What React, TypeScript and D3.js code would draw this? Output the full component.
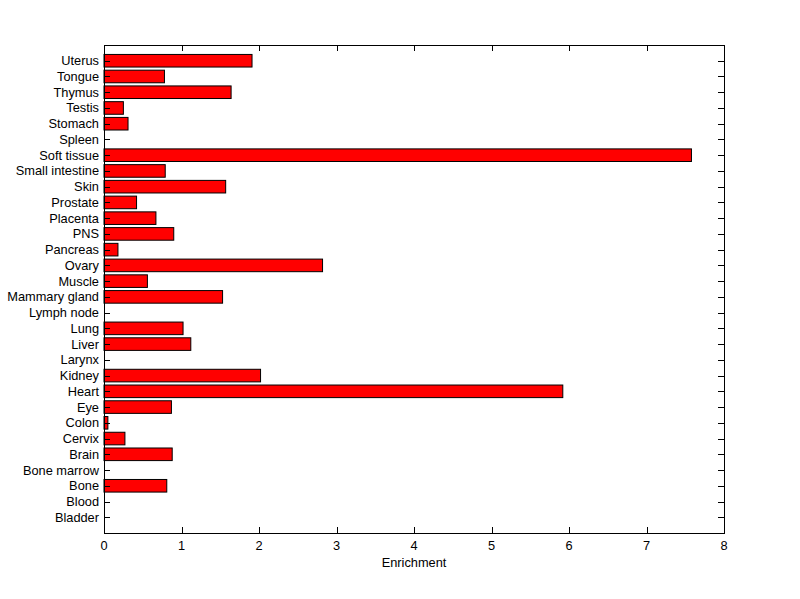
import React from "react";
import * as d3 from "d3";

const categories = [
  "Uterus", "Tongue", "Thymus", "Testis", "Stomach", "Spleen", "Soft tissue",
  "Small intestine", "Skin", "Prostate", "Placenta", "PNS", "Pancreas", "Ovary",
  "Muscle", "Mammary gland", "Lymph node", "Lung", "Liver", "Larynx", "Kidney",
  "Heart", "Eye", "Colon", "Cervix", "Brain", "Bone marrow", "Bone", "Blood", "Bladder",
];
const values = [
  1.91, 0.78, 1.64, 0.25, 0.31, 0, 7.58,
  0.79, 1.57, 0.42, 0.67, 0.90, 0.18, 2.82,
  0.56, 1.53, 0, 1.02, 1.12, 0, 2.02,
  5.92, 0.87, 0.05, 0.27, 0.88, 0, 0.81, 0, 0,
];
const xTicks = [0, 1, 2, 3, 4, 5, 6, 7, 8];
const xLabel = "Enrichment";

export default function App() {
  const W = 800, H = 599;
  const left = 104, right = 724, top = 45, bottom = 533;
  const n = categories.length;
  const x = d3.scaleLinear().domain([0, 8]).range([left, right]);
  const y = d3.scaleLinear().domain([0, n + 1]).range([bottom, top]);
  const pos = (i: number) => n - i; // Uterus top
  const barH = Math.abs(y(0.8) - y(0));
  const tick = 6;
  const font = "'Liberation Sans', Arial, sans-serif";
  return (
    <svg width={W} height={H} style={{ position: "absolute", left: 0, top: 0, background: "#fff" }}
      fontFamily={font} fontSize={12.8}>
      <rect x={0} y={0} width={W} height={H} fill="#fff" />
      {categories.map((c, i) => {
        const v = values[i];
        const cy = y(pos(i));
        return v > 0 ? (
          <rect key={c} x={x(0)} y={cy - barH / 2} width={x(v) - x(0)} height={barH}
            fill="#ff0000" stroke="#000" strokeWidth={1} />
        ) : null;
      })}
      {/* y ticks */}
      {categories.map((c, i) => {
        const cy = Math.round(y(pos(i))) + 0.5;
        return (
          <g key={"t" + c}>
            <line x1={left} x2={left + tick} y1={cy} y2={cy} stroke="#000" />
            <line x1={right} x2={right - tick} y1={cy} y2={cy} stroke="#000" />
            <text x={left - 5} y={y(pos(i))} dy="0.35em" textAnchor="end" fill="#000">{c}</text>
          </g>
        );
      })}
      {/* x ticks */}
      {xTicks.map((t) => {
        const cx = Math.round(x(t)) + 0.5;
        return (
          <g key={"x" + t}>
            <line x1={cx} x2={cx} y1={bottom} y2={bottom - tick} stroke="#000" />
            <line x1={cx} x2={cx} y1={top} y2={top + tick} stroke="#000" />
            <text x={x(t)} y={550} textAnchor="middle" fill="#000">{t}</text>
          </g>
        );
      })}
      <rect x={left + 0.5} y={top + 0.5} width={right - left} height={bottom - top}
        fill="none" stroke="#000" strokeWidth={1} />
      <text x={(left + right) / 2} y={567} textAnchor="middle" fill="#000">{xLabel}</text>
    </svg>
  );
}
